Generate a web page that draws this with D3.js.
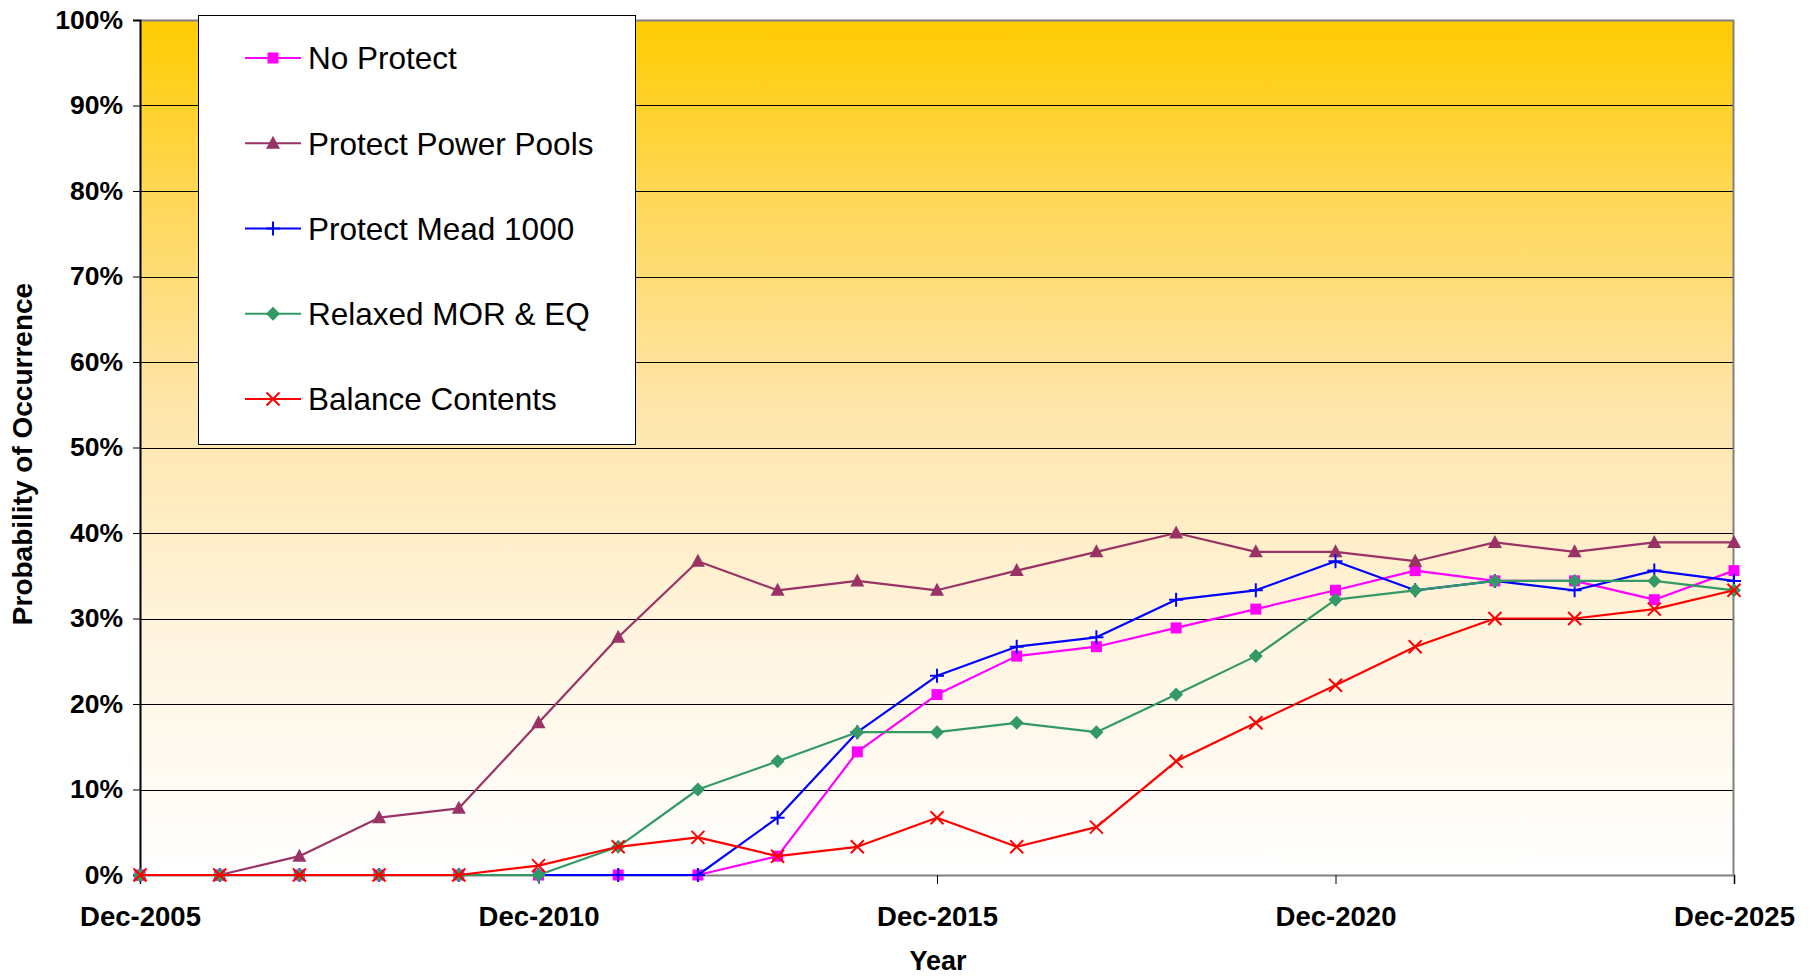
<!DOCTYPE html>
<html>
<head>
<meta charset="utf-8">
<script src="https://cdn.jsdelivr.net/npm/d3@7"></script>
<style>
  html, body { margin: 0; padding: 0; background: #ffffff; }
  svg { display: block; }
  text { font-family: "Liberation Sans", Arial, sans-serif; }
</style>
</head>
<body>
<svg id="chart" width="1816" height="976"></svg>
<script>
// ---------------- DATA ----------------
const years = [2005, 2006, 2007, 2008, 2009, 2010, 2011, 2012, 2013, 2014, 2015,
               2016, 2017, 2018, 2019, 2020, 2021, 2022, 2023, 2024, 2025];
const xTickYears = [2005, 2010, 2015, 2020, 2025];
const xTickLabels = ["Dec-2005", "Dec-2010", "Dec-2015", "Dec-2020", "Dec-2025"];
const yTicks = [0, 10, 20, 30, 40, 50, 60, 70, 80, 90, 100];

const noProtect        = [0, 0, 0, 0, 0, 0, 0, 0, 2.2, 14.4, 21.1, 25.6, 26.7, 28.9, 31.1, 33.3, 35.6, 34.4, 34.4, 32.2, 35.6];
const protectPowerPools = [0, 0, 2.2, 6.7, 7.8, 17.8, 27.8, 36.7, 33.3, 34.4, 33.3, 35.6, 37.8, 40.0, 37.8, 37.8, 36.7, 38.9, 37.8, 38.9, 38.9];
const protectMead1000  = [0, 0, 0, 0, 0, 0, 0, 0, 6.7, 16.7, 23.3, 26.7, 27.8, 32.2, 33.3, 36.7, 33.3, 34.4, 33.3, 35.6, 34.4];
const relaxedMorEq     = [0, 0, 0, 0, 0, 0, 3.3, 10.0, 13.3, 16.7, 16.7, 17.8, 16.7, 21.1, 25.6, 32.2, 33.3, 34.4, 34.4, 34.4, 33.3];
const balanceContents  = [0, 0, 0, 0, 0, 1.1, 3.3, 4.4, 2.2, 3.3, 6.7, 3.3, 5.6, 13.3, 17.8, 22.2, 26.7, 30.0, 30.0, 31.1, 33.3];

const seriesNames = ["No Protect", "Protect Power Pools", "Protect Mead 1000", "Relaxed MOR & EQ", "Balance Contents"];
const seriesValues = [noProtect, protectPowerPools, protectMead1000, relaxedMorEq, balanceContents];
const seriesColors = ["#FF00FF", "#993366", "#0000FF", "#339966", "#FF0000"];
const seriesMarkers = ["square", "triangle", "plus", "diamond", "cross"];

// ---------------- LAYOUT ----------------
const svg = d3.select("#chart");
const M = { left: 140, right: 1734, top: 20, bottom: 875 };

const x = d3.scaleLinear().domain([2005, 2025]).range([M.left, M.right]);
const y = d3.scaleLinear().domain([0, 100]).range([M.bottom, M.top]);

function stretch(sel, f) {
  sel.each(function () {
    const L = this.getComputedTextLength();
    d3.select(this).attr("textLength", L * f).attr("lengthAdjust", "spacingAndGlyphs");
  });
}

// background gradient
const defs = svg.append("defs");
const grad = defs.append("linearGradient").attr("id", "bg")
  .attr("x1", 0).attr("y1", 0).attr("x2", 0).attr("y2", 1);
grad.append("stop").attr("offset", "0%").attr("stop-color", "#FFCC00");
grad.append("stop").attr("offset", "20%").attr("stop-color", "#FFD755");
grad.append("stop").attr("offset", "45%").attr("stop-color", "#FFE5AA");
grad.append("stop").attr("offset", "75%").attr("stop-color", "#FFF6E4");
grad.append("stop").attr("offset", "100%").attr("stop-color", "#FFFFFF");

svg.append("rect")
  .attr("x", M.left).attr("y", M.top)
  .attr("width", M.right - M.left).attr("height", M.bottom - M.top)
  .attr("fill", "url(#bg)");

// gridlines
svg.append("g").selectAll("line").data(yTicks.filter(d => d > 0 && d < 100)).join("line")
  .attr("x1", M.left).attr("x2", M.right)
  .attr("y1", d => Math.round(y(d)) + 0.5).attr("y2", d => Math.round(y(d)) + 0.5)
  .attr("stroke", "#000").attr("stroke-width", 1);

// plot border top/right
svg.append("path")
  .attr("d", `M${M.left},${M.top + 0.5}H${M.right - 0.5}V${M.bottom}`)
  .attr("fill", "none").attr("stroke", "#808080").attr("stroke-width", 2);

// y axis
const yAxis = d3.axisLeft(y).tickValues(yTicks).tickFormat(d => d + "%").tickSize(7).tickPadding(10);
const gy = svg.append("g").attr("transform", `translate(${M.left},0)`).call(yAxis);
gy.select(".domain").attr("stroke", "#000").attr("stroke-width", 2);
gy.selectAll(".tick line").attr("stroke", "#000");
gy.selectAll(".tick text")
  .attr("font-family", "Liberation Sans, Arial, sans-serif")
  .attr("font-size", 25.5).attr("font-weight", "bold").attr("fill", "#000");
stretch(gy.selectAll(".tick text"), 1.04);

// x axis
const xAxis = d3.axisBottom(x).tickValues(xTickYears)
  .tickFormat((d, i) => xTickLabels[i]).tickSize(9).tickPadding(23);
const gx = svg.append("g").attr("transform", `translate(0,${M.bottom})`).call(xAxis);
gx.select(".domain").attr("stroke", "#808080").attr("stroke-width", 2);
gx.selectAll(".tick line").attr("stroke", "#000");
gx.selectAll(".tick text")
  .attr("font-family", "Liberation Sans, Arial, sans-serif")
  .attr("font-size", 27).attr("font-weight", "bold").attr("fill", "#000");
stretch(gx.selectAll(".tick text"), 1.02);

// axis titles
svg.append("text")
  .attr("transform", "translate(32,454) rotate(-90)")
  .attr("text-anchor", "middle")
  .attr("font-size", 28).attr("font-weight", "bold").attr("fill", "#000")
  .text("Probability of Occurrence");

svg.append("text")
  .attr("x", 938).attr("y", 970)
  .attr("text-anchor", "middle")
  .attr("font-size", 27).attr("font-weight", "bold").attr("fill", "#000")
  .text("Year");

// markers
function drawMarker(g, type, color) {
  if (type === "square") {
    g.append("rect").attr("x", -5.5).attr("y", -5.5).attr("width", 11).attr("height", 11).attr("fill", color);
  } else if (type === "triangle") {
    g.append("path").attr("d", "M0,-7.5L7,5.5L-7,5.5Z").attr("fill", color);
  } else if (type === "diamond") {
    g.append("path").attr("d", "M0,-7L7,0L0,7L-7,0Z").attr("fill", color);
  } else if (type === "plus") {
    g.append("path").attr("d", "M-7,0H7M0,-7V7").attr("stroke", color).attr("stroke-width", 2).attr("fill", "none");
  } else if (type === "cross") {
    g.append("path").attr("d", "M-6.5,-6.5L6.5,6.5M-6.5,6.5L6.5,-6.5").attr("stroke", color).attr("stroke-width", 2).attr("fill", "none");
  }
}

const line = d3.line().x((d, i) => x(years[i])).y(d => y(d));

seriesValues.forEach((vals, s) => {
  const g = svg.append("g");
  g.append("path").datum(vals)
    .attr("d", line)
    .attr("fill", "none")
    .attr("stroke", seriesColors[s])
    .attr("stroke-width", 2.2)
    .attr("stroke-linejoin", "round");
  vals.forEach((v, i) => {
    const mg = g.append("g").attr("transform", `translate(${x(years[i])},${y(v)})`);
    drawMarker(mg, seriesMarkers[s], seriesColors[s]);
  });
});

// legend
const lg = svg.append("g");
lg.append("rect")
  .attr("x", 198.5).attr("y", 15.5).attr("width", 437).attr("height", 429)
  .attr("fill", "#fff").attr("stroke", "#000").attr("stroke-width", 1);
const legendY = d3.scalePoint().domain(seriesNames).range([58, 399]);
seriesNames.forEach((name, s) => {
  const yy = legendY(name);
  lg.append("line").attr("x1", 245).attr("x2", 301).attr("y1", yy).attr("y2", yy)
    .attr("stroke", seriesColors[s]).attr("stroke-width", 2.2);
  const mg = lg.append("g").attr("transform", `translate(273,${yy})`);
  drawMarker(mg, seriesMarkers[s], seriesColors[s]);
  lg.append("text").attr("x", 308).attr("y", yy).attr("dy", "0.36em")
    .attr("font-size", 31.5).attr("fill", "#000").text(name);
});
</script>
</body>
</html>
